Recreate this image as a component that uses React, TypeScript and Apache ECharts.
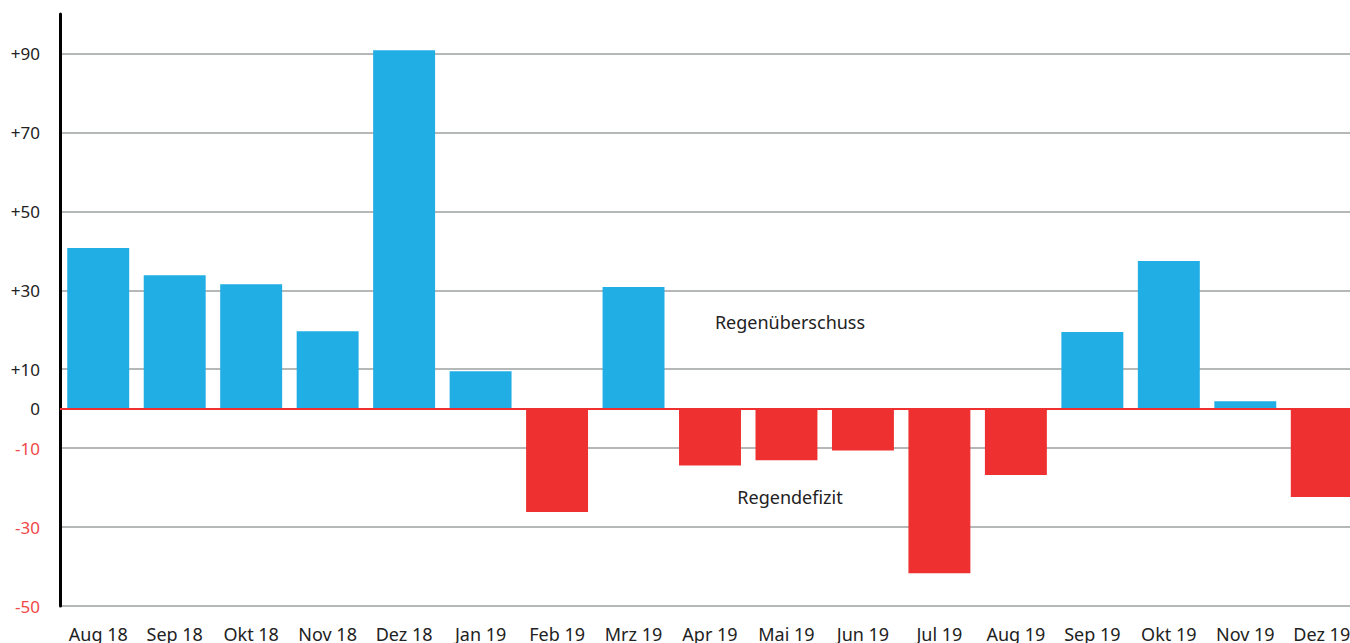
import React, { useEffect, useRef } from "react";
import * as echarts from "echarts";

const categories = [
  "Aug 18", "Sep 18", "Okt 18", "Nov 18", "Dez 18", "Jan 19", "Feb 19", "Mrz 19",
  "Apr 19", "Mai 19", "Jun 19", "Jul 19", "Aug 19", "Sep 19", "Okt 19", "Nov 19", "Dez 19",
];
const values = [
  40.7, 33.8, 31.5, 19.6, 90.8, 9.5, -26.2, 30.8,
  -14.4, -13.1, -10.6, -41.7, -16.8, 19.4, 37.4, 1.9, -22.4,
];
const surplusLabel = "Regenüberschuss";
const deficitLabel = "Regendefizit";

const BLUE = "#20aee5";
const RED = "#ef3030";
const FONT = "'Noto Sans', 'Open Sans', sans-serif";

export default function App() {
  const ref = useRef<HTMLDivElement>(null);
  useEffect(() => {
    const chart = echarts.init(ref.current!, null, { renderer: "svg" });
    chart.setOption({
      animation: false,
      grid: {
        left: 60,
        width: 1300,
        top: 14,
        height: 592,
        containLabel: false,
        outerBoundsMode: "none",
      },
      xAxis: {
        type: "category",
        data: categories,
        axisLine: { show: false },
        axisTick: { show: false },
        axisLabel: { color: "#222", fontSize: 18, fontFamily: FONT, margin: 19, interval: 0 },
      },
      yAxis: {
        type: "value",
        min: -50,
        max: 100,
        interval: 20,
        axisLine: { show: true, onZero: false, lineStyle: { color: "#000", width: 3 } },
        axisTick: { show: false },
        splitLine: { show: true, showMaxLine: false, lineStyle: { color: "#b5b8b8", width: 2 } },
        axisLabel: {
          showMaxLabel: false,
          fontSize: 17,
          fontFamily: FONT,
          margin: 20,
          formatter: (v: number) => (v > 0 ? "+" + v : String(v)),
          color: (v: any) => (Number(v) < 0 ? "#f04848" : "#222"),
        },
      },
      series: [
        {
          type: "bar",
          barCategoryGap: "19%",
          data: values.map((v) => ({ value: v, itemStyle: { color: v >= 0 ? BLUE : RED } })),
          markLine: {
            silent: true,
            symbol: "none",
            lineStyle: { color: RED, width: 2, type: "solid" },
            label: {
              show: true,
              position: "start",
              formatter: "0",
              color: "#222",
              fontSize: 17,
              fontFamily: FONT,
              distance: 20,
            },
            data: [{ yAxis: 0 }],
          },
        },
      ],
      graphic: [
        {
          type: "text",
          x: 790,
          y: 322,
          style: {
            text: surplusLabel,
            fontSize: 18,
            fontFamily: FONT,
            fill: "#222",
            align: "center",
            verticalAlign: "middle",
          },
        },
        {
          type: "text",
          x: 790,
          y: 497,
          style: {
            text: deficitLabel,
            fontSize: 18,
            fontFamily: FONT,
            fill: "#222",
            align: "center",
            verticalAlign: "middle",
          },
        },
      ],
    });
    return () => chart.dispose();
  }, []);
  return (
    <div
      ref={ref}
      style={{ position: "fixed", left: 0, top: 0, width: 1350, height: 643, background: "#fff" }}
    />
  );
}
